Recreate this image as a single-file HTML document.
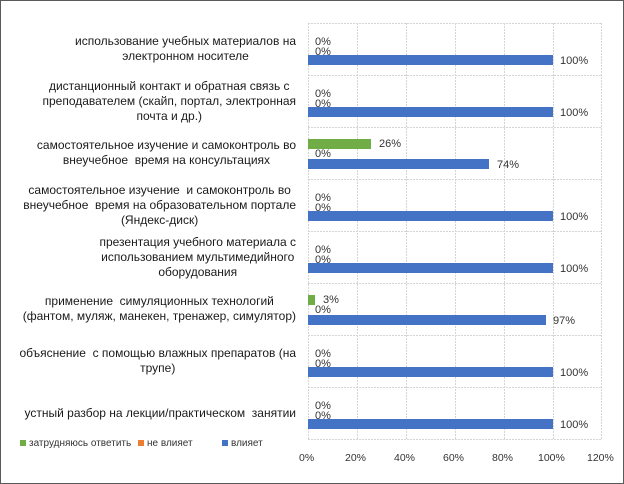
<!DOCTYPE html>
<html><head><meta charset="utf-8"><style>
*{margin:0;padding:0;box-sizing:border-box}
body{width:624px;height:484px;background:#fff;position:relative;overflow:hidden;font-family:"Liberation Sans","DejaVu Sans",sans-serif;color:#1a1a1a}
#frame{position:absolute;left:0;top:0;width:624px;height:484px;border:1px solid #5a5a5a}
.lab{position:absolute;right:328px;width:300px;display:flex;align-items:center;justify-content:flex-end;height:52px}
.lab div{text-align:center;font-size:12px;line-height:15px;white-space:nowrap}
.t{position:absolute;font-size:11px;line-height:11px;color:#333;white-space:nowrap}
.x{font-size:10.5px}
.lg{font-size:10px;color:#333}
</style></head><body>
<div id="frame"></div>
<svg width="624" height="484" style="position:absolute;left:0;top:0">
<g stroke="#d4d4d4" stroke-dasharray="2,1" stroke-width="1">
<line x1="308.5" y1="23" x2="308.5" y2="439"/>
<line x1="357.5" y1="23" x2="357.5" y2="439"/>
<line x1="406.5" y1="23" x2="406.5" y2="439"/>
<line x1="455.5" y1="23" x2="455.5" y2="439"/>
<line x1="504.5" y1="23" x2="504.5" y2="439"/>
<line x1="553.5" y1="23" x2="553.5" y2="439"/>
<line x1="601.5" y1="23" x2="601.5" y2="439"/>
<line x1="308" y1="23.5" x2="602" y2="23.5"/>
<line x1="308" y1="75.5" x2="602" y2="75.5"/>
<line x1="308" y1="127.5" x2="602" y2="127.5"/>
<line x1="308" y1="179.5" x2="602" y2="179.5"/>
<line x1="308" y1="231.5" x2="602" y2="231.5"/>
<line x1="308" y1="283.5" x2="602" y2="283.5"/>
<line x1="308" y1="335.5" x2="602" y2="335.5"/>
<line x1="308" y1="387.5" x2="602" y2="387.5"/>
<line x1="308" y1="439.5" x2="602" y2="439.5"/>
</g>
<g fill="#4472c4">
<rect x="308" y="55" width="245" height="10"/>
<rect x="308" y="107" width="245" height="10"/>
<rect x="308" y="159" width="181" height="10"/>
<rect x="308" y="211" width="245" height="10"/>
<rect x="308" y="263" width="245" height="10"/>
<rect x="308" y="315" width="238" height="10"/>
<rect x="308" y="367" width="245" height="10"/>
<rect x="308" y="419" width="245" height="10"/>
</g>
<g fill="#70ad47">
<rect x="308" y="139" width="63" height="10"/>
<rect x="308" y="295" width="7" height="10"/>
</g>
<rect x="20" y="440" width="6" height="6" fill="#70ad47"/>
<rect x="138" y="440" width="6" height="6" fill="#ed7d31"/>
<rect x="222" y="440" width="6" height="6" fill="#4472c4"/>
</svg>

<div class="lab" style="top:23px"><div>использование учебных материалов на<br>электронном носителе</div></div>
<div class="lab" style="top:75px"><div>дистанционный контакт и обратная связь с<br>преподавателем (скайп, портал, электронная<br>почта и др.)</div></div>
<div class="lab" style="top:127px"><div>самостоятельное изучение и самоконтроль во<br>внеучебное &nbsp;время на консультациях</div></div>
<div class="lab" style="top:179px"><div>самостоятельное изучение &nbsp;и самоконтроль во<br>внеучебное &nbsp;время на образовательном портале<br>(Яндекс-диск)</div></div>
<div class="lab" style="top:231px"><div>презентация учебного материала с<br>использованием мультимедийного<br>оборудования</div></div>
<div class="lab" style="top:283px"><div>применение &nbsp;симуляционных технологий<br>(фантом, муляж, манекен, тренажер, симулятор)</div></div>
<div class="lab" style="top:335px"><div>объяснение &nbsp;с помощью влажных препаратов (на<br>трупе)</div></div>
<div class="lab" style="top:387px"><div>устный разбор на лекции/практическом &nbsp;занятии</div></div>

<div class="t" style="left:315px;top:37px">0%</div><div class="t" style="left:315px;top:47px">0%</div><div class="t" style="left:560px;top:56px">100%</div>
<div class="t" style="left:315px;top:89px">0%</div><div class="t" style="left:315px;top:99px">0%</div><div class="t" style="left:560px;top:108px">100%</div>
<div class="t" style="left:379px;top:139px">26%</div><div class="t" style="left:315px;top:149px">0%</div><div class="t" style="left:497px;top:160px">74%</div>
<div class="t" style="left:315px;top:193px">0%</div><div class="t" style="left:315px;top:203px">0%</div><div class="t" style="left:560px;top:212px">100%</div>
<div class="t" style="left:315px;top:245px">0%</div><div class="t" style="left:315px;top:255px">0%</div><div class="t" style="left:560px;top:264px">100%</div>
<div class="t" style="left:323px;top:295px">3%</div><div class="t" style="left:315px;top:305px">0%</div><div class="t" style="left:553px;top:316px">97%</div>
<div class="t" style="left:315px;top:349px">0%</div><div class="t" style="left:315px;top:359px">0%</div><div class="t" style="left:560px;top:368px">100%</div>
<div class="t" style="left:315px;top:401px">0%</div><div class="t" style="left:315px;top:411px">0%</div><div class="t" style="left:560px;top:420px">100%</div>

<div class="t lg" style="left:29px;top:438px">затрудняюсь ответить</div>
<div class="t lg" style="left:147px;top:438px">не влияет</div>
<div class="t lg" style="left:231px;top:438px">влияет</div>

<div class="t x" style="left:299px;top:453px">0%</div>
<div class="t x" style="left:345px;top:453px">20%</div>
<div class="t x" style="left:394px;top:453px">40%</div>
<div class="t x" style="left:443px;top:453px">60%</div>
<div class="t x" style="left:492px;top:453px">80%</div>
<div class="t x" style="left:538px;top:453px">100%</div>
<div class="t x" style="left:587px;top:453px">120%</div>
</body></html>
